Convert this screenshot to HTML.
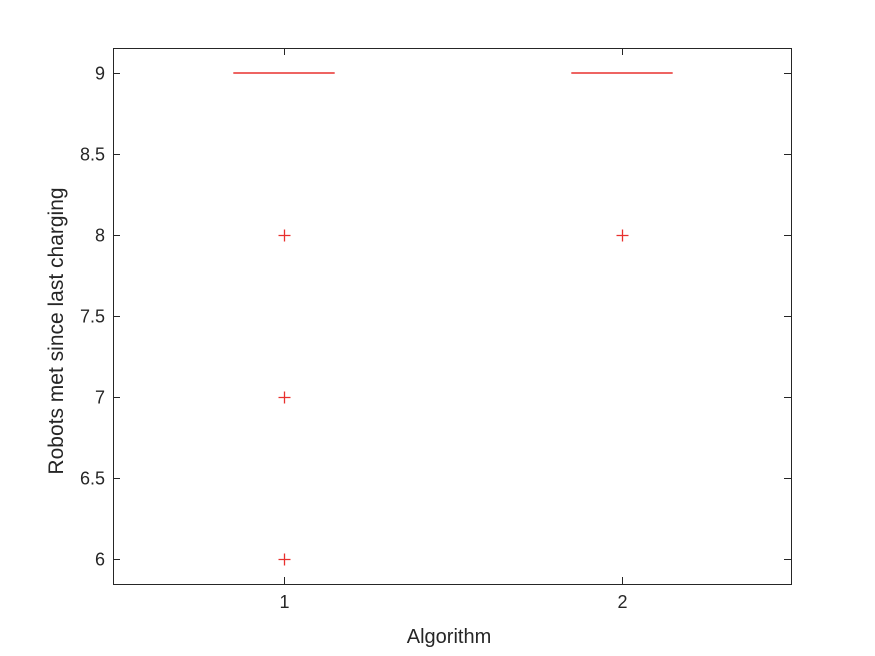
<!DOCTYPE html>
<html><head><meta charset="utf-8"><style>
body{margin:0;background:#fff;}
svg{display:block;font-family:"Liberation Sans",sans-serif;}
</style></head><body>
<svg id="c" width="875" height="656"></svg>
<script>
const categories=[1,2];
const medians=[9,9];
const outliers=[[8,7,6],[8]];
const yTicks=[6,6.5,7,7.5,8,8.5,9];
const yTickLabels=["6","6.5","7","7.5","8","8.5","9"];
const xTickLabels=["1","2"];
const L=113,R=791,T=48,B=584;
const xmin=0.4941,xmax=2.5,ymin=5.8457,ymax=9.1543;
const sx=v=>L+(v-xmin)/(xmax-xmin)*(R-L);
const sy=v=>B-(v-ymin)/(ymax-ymin)*(B-T);
const svg=document.getElementById('c');
const NS='http://www.w3.org/2000/svg';
function mk(tag,attrs,parent){const e=document.createElementNS(NS,tag);for(const k in attrs)e.setAttribute(k,attrs[k]);(parent||svg).appendChild(e);return e;}
const frame=mk('rect',{x:L+.5,y:T+.5,width:R-L,height:B-T,fill:'#fff',stroke:'#262626','stroke-width':1});


yTicks.forEach((t,i)=>{
  const y=Math.round(sy(t))+.5;
  const g=mk('g',{});
  
  
  mk('line',{x1:L,x2:L+7,y1:y,y2:y,stroke:'#262626'},g);
  mk('line',{x1:R-7,x2:R,y1:y,y2:y,stroke:'#262626'},g);
  const tx=mk('text',{x:L-8,y:y+6,'text-anchor':'end','font-size':18,fill:'#262626'},g);
  tx.textContent=yTickLabels[i];
});
categories.forEach((c,i)=>{
  const x=Math.round(sx(c))+.5;
  const g=mk('g',{});
  
  
  mk('line',{x1:x,x2:x,y1:B,y2:B-7,stroke:'#262626'},g);
  mk('line',{x1:x,x2:x,y1:T,y2:T+7,stroke:'#262626'},g);
  const tx=mk('text',{x:x,y:B+24,'text-anchor':'middle','font-size':18,fill:'#262626'},g);
  tx.textContent=xTickLabels[i];
});
categories.forEach((c,i)=>{
  const y=sy(medians[i]);
  const m=mk('line',{x1:sx(c-0.15),x2:sx(c+0.15),y1:y,y2:y,stroke:'#e8312f','stroke-width':1.5});
  
  
  outliers[i].forEach(v=>{
    const x=Math.round(sx(c))+.5,yy=Math.round(sy(v))+.5;
    const p=mk('path',{d:`M${x-6},${yy}H${x+6}M${x},${yy-6}V${yy+6}`,stroke:'#e8302e','stroke-width':1.3,fill:'none'});
    
    
  });
});
const xl=mk('text',{x:449,y:643,'text-anchor':'middle','font-size':20,fill:'#262626'});
xl.textContent='Algorithm';


const yl=mk('text',{x:0,y:0,'text-anchor':'middle','font-size':21,fill:'#262626',transform:`translate(63,331) rotate(-90)`});
yl.textContent='Robots met since last charging';


</script>
</body></html>
